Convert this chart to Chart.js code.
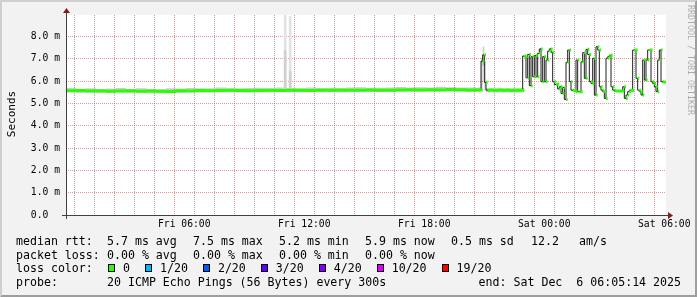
<!DOCTYPE html>
<html>
<head>
<meta charset="utf-8">
<script src="https://cdn.jsdelivr.net/npm/chart.js@4.4.1/dist/chart.umd.min.js"></script>
<style>
  html, body { margin: 0; padding: 0; background: #f2f2f2; }
  #wrap { width: 697px; height: 297px; }
</style>
</head>
<body>
<div id="wrap"><canvas id="rrd" width="697" height="297"></canvas></div>
<script>
// median rtt in ms, one value per 5 min step, graph starts Fri 00:05:14
const startHour = 0.087;
const endHour = 30.087;
const stepHours = 5 / 60;
const coarseSteps = 6; // the quiet first part is kept as 30 min blocks

const coarseMedian = [5.57, 5.58, 5.56, 5.57, 5.55, 5.56, 5.57, 5.55, 5.56, 5.55,
  5.54, 5.57, 5.56, 5.58, 5.57, 5.58, 5.59, 5.58, 5.57, 5.58,
  5.59, 5.58, 5.60, 5.59, 5.58, 5.60, 5.59, 5.60, 5.59, 5.60,
  5.61, 5.60, 5.60, 5.61, 5.62, 5.61, 5.62, 5.61, 5.63, 5.62, 5.61];
const coarseSmokeTop = [5.68, 5.70, 5.66, 5.69, 5.64, 5.67, 5.70, 5.65, 5.68, 5.66,
  5.64, 5.69, 5.67, 5.70, 5.68, 5.69, 5.72, 5.69, 5.68, 5.70,
  5.71, 5.69, 5.72, 5.70, 5.69, 5.72, 5.70, 5.71, 5.70, 5.72,
  5.73, 5.71, 5.71, 5.72, 5.74, 5.72, 5.73, 5.72, 5.75, 5.73, 5.72];
const coarseSmokeBottom = [5.49, 5.50, 5.47, 5.49, 5.46, 5.48, 5.49, 5.46, 5.48, 5.46,
  5.45, 5.49, 5.47, 5.50, 5.48, 5.50, 5.51, 5.50, 5.49, 5.50,
  5.51, 5.50, 5.52, 5.51, 5.50, 5.52, 5.51, 5.52, 5.51, 5.52,
  5.53, 5.52, 5.52, 5.53, 5.54, 5.53, 5.54, 5.53, 5.55, 5.54, 5.53];

const fineFirstStep = 246;
const fineMedian = [5.62, 5.61, 5.62, 5.61, 6.90, 7.18, 5.95,
  5.60, 5.59, 5.61, 5.60, 5.58, 5.60, 5.59, 5.60, 5.61, 5.59, 5.58,
  5.60, 5.59, 5.60, 5.58, 5.59, 5.60, 5.59, 5.58, 5.60, 5.59, 5.60,
  7.13, 7.10, 6.15, 7.20, 5.80, 7.10, 6.20, 7.15, 6.20, 7.25,
  7.45, 5.98, 7.10, 5.98, 6.95, 7.35, 7.45, 7.30, 5.98, 5.85,
  5.88, 5.65, 5.75, 5.45, 5.72, 5.18, 6.85,
  7.40, 5.98, 5.60, 5.58, 5.53, 6.95, 5.53, 5.53, 6.87, 7.28,
  6.13, 7.43, 7.20, 5.98, 5.90, 7.03, 5.38, 7.55, 7.40, 5.75,
  5.60, 5.53, 5.23, 7.03, 7.10, 7.17, 5.75, 5.60, 5.56, 5.56,
  5.56, 5.56, 5.56, 5.75, 5.23, 5.38, 5.53, 5.60, 5.58, 7.40,
  7.40, 6.13, 5.60, 5.53, 5.38, 6.95, 6.05, 6.95, 7.40, 7.40,
  5.98, 5.90, 5.75, 5.53, 6.95, 7.40, 5.98, 5.95];
const fineSmokeTop = [5.72, 5.70, 5.73, 5.71, 7.05, 7.55, 6.90,
  5.70, 5.69, 5.71, 5.70, 5.68, 5.70, 5.69, 5.71, 5.72, 5.69, 5.68,
  5.70, 5.69, 5.70, 5.68, 5.69, 5.71, 5.69, 5.68, 5.70, 5.69, 5.70];
const fineSmokeBottom = [5.52, 5.51, 5.52, 5.51, 5.62, 6.70, 5.60,
  5.50, 5.49, 5.51, 5.50, 5.48, 5.50, 5.49, 5.50, 5.51, 5.49, 5.48,
  5.50, 5.49, 5.50, 5.48, 5.49, 5.50, 5.49, 5.48, 5.50, 5.49, 5.50];

// two single pings far out around Fri 11:00
const spikeSteps = [131, 134];
const spikeBase = [5.62, 5.62];
const spikeDense = [7.37, 6.44];
const spikeMax = [9.0, 8.9];

const yMax = 8.97;
const xTickLabels = ['Fri 06:00', 'Fri 12:00', 'Fri 18:00', 'Sat 00:00', 'Sat 06:00'];

const rttStats = ['5.7 ms avg', '7.5 ms max', '5.2 ms min', '5.9 ms now', '0.5 ms sd', '12.2', 'am/s'];
const lossStats = ['0.00 % avg', '0.00 % max', '0.00 % min', '0.00 % now'];
const lossLabels = ['0', '1/20', '2/20', '3/20', '4/20', '10/20', '19/20'];
const lossColors = ['#26ff00', '#00b8ff', '#0059ff', '#5e00ff', '#7e00ff', '#dd00ff', '#ff0000'];
const probeText = '20 ICMP Echo Pings (56 Bytes) every 300s';
const endText = 'end: Sat Dec  6 06:05:14 2025';

function stepToHour(k) { return startHour + k * stepHours; }

// build the point lists
const medianPts = [];
coarseMedian.forEach((v, i) => medianPts.push({ x: stepToHour(i * coarseSteps), y: v }));
fineMedian.forEach((v, j) => medianPts.push({ x: stepToHour(fineFirstStep + j), y: v }));
const blackPts = medianPts.concat([{ x: endHour, y: fineMedian[fineMedian.length - 1] }]);

const greenPts = [];
medianPts.forEach((p, i) => {
  const x2 = i + 1 < medianPts.length ? medianPts[i + 1].x : endHour;
  greenPts.push({ x: p.x, y: p.y }, { x: x2, y: p.y }, { x: x2, y: null });
});

const smokeTopPts = [], smokeBotPts = [];
coarseSmokeTop.forEach((v, i) => smokeTopPts.push({ x: stepToHour(i * coarseSteps), y: v }));
coarseSmokeBottom.forEach((v, i) => smokeBotPts.push({ x: stepToHour(i * coarseSteps), y: v }));
fineSmokeTop.forEach((v, j) => smokeTopPts.push({ x: stepToHour(fineFirstStep + j), y: v }));
fineSmokeBottom.forEach((v, j) => smokeBotPts.push({ x: stepToHour(fineFirstStep + j), y: v }));
const smokeEnd = stepToHour(fineFirstStep + fineSmokeTop.length);
smokeTopPts.push({ x: smokeEnd, y: fineSmokeTop[fineSmokeTop.length - 1] });
smokeBotPts.push({ x: smokeEnd, y: fineSmokeBottom[fineSmokeBottom.length - 1] });

const spikeDensePts = spikeSteps.map((k, i) => ({ x: stepToHour(k + 0.5), y: [spikeBase[i], spikeDense[i]] }));
const spikeMaxPts = spikeSteps.map((k, i) => ({ x: stepToHour(k + 0.5), y: [spikeBase[i], spikeMax[i]] }));

const MONO = '"DejaVu Sans Mono", monospace';
const minorGrid = 'rgba(143,143,143,0.75)';
const majorGrid = 'rgba(222,79,79,0.6)';

const rrdFrame = {
  id: 'rrdFrame',
  beforeDraw(chart) {
    const { ctx, width: W, height: H, chartArea: a } = chart;
    ctx.save();
    ctx.fillStyle = '#f2f2f2';
    ctx.fillRect(0, 0, W, H);
    ctx.fillStyle = '#cfcfcf';
    ctx.beginPath();
    ctx.moveTo(0, H); ctx.lineTo(2, H - 2); ctx.lineTo(2, 2);
    ctx.lineTo(W - 2, 2); ctx.lineTo(W, 0); ctx.lineTo(0, 0);
    ctx.closePath(); ctx.fill();
    ctx.fillStyle = '#9e9e9e';
    ctx.beginPath();
    ctx.moveTo(2, H - 2); ctx.lineTo(W - 2, H - 2); ctx.lineTo(W - 2, 2);
    ctx.lineTo(W, 0); ctx.lineTo(W, H); ctx.lineTo(0, H);
    ctx.closePath(); ctx.fill();
    ctx.fillStyle = '#ffffff';
    ctx.fillRect(a.left, a.top, a.right - a.left, a.bottom - a.top);
    ctx.restore();
  },
  afterDraw(chart) {
    const { ctx, chartArea: a } = chart;
    ctx.save();
    // axes
    ctx.strokeStyle = '#404040';
    ctx.lineWidth = 1;
    ctx.beginPath();
    ctx.moveTo(a.left - 4, a.bottom + 0.5); ctx.lineTo(a.right + 4, a.bottom + 0.5);
    ctx.moveTo(a.left + 0.5, a.bottom + 4); ctx.lineTo(a.left + 0.5, a.top - 4);
    ctx.stroke();
    ctx.fillStyle = '#801f1f';
    ctx.beginPath();
    ctx.moveTo(a.right + 2, a.bottom - 3); ctx.lineTo(a.right + 2, a.bottom + 4); ctx.lineTo(a.right + 7, a.bottom + 0.5);
    ctx.closePath(); ctx.fill();
    ctx.beginPath();
    ctx.moveTo(a.left - 3, a.top - 2); ctx.lineTo(a.left + 4, a.top - 2); ctx.lineTo(a.left + 0.5, a.top - 7);
    ctx.closePath(); ctx.fill();

    // unit label
    ctx.fillStyle = '#000';
    ctx.font = '11px ' + MONO;
    ctx.textAlign = 'center';
    ctx.textBaseline = 'alphabetic';
    ctx.save();
    ctx.translate(15, 114);
    ctx.rotate(-Math.PI / 2);
    ctx.fillText('Seconds', 0, 0);
    ctx.restore();

    // watermark
    ctx.save();
    ctx.fillStyle = 'rgba(0,0,0,0.3)';
    ctx.font = '8.3px ' + MONO;
    ctx.textAlign = 'left';
    ctx.textBaseline = 'middle';
    ctx.translate(690, 5);
    ctx.rotate(Math.PI / 2);
    ctx.fillText('RRDTOOL / TOBI OETIKER', 0, 0);
    ctx.restore();

    // legend
    ctx.font = '11.6px ' + MONO;
    ctx.textAlign = 'left';
    ctx.fillStyle = '#000';
    const statX = [107, 193, 279, 365, 451, 531, 579];
    ctx.fillText('median rtt:', 16, 245);
    rttStats.forEach((t, i) => ctx.fillText(t, statX[i], 245));
    ctx.fillText('packet loss:', 16, 259);
    lossStats.forEach((t, i) => ctx.fillText(t, statX[i], 259));
    ctx.fillText('loss color:', 16, 272);
    let bx = 108.3;
    lossLabels.forEach((t, i) => {
      const x0 = Math.round(bx);
      ctx.fillStyle = lossColors[i];
      ctx.fillRect(x0, 264, 7, 8);
      ctx.strokeStyle = '#000';
      ctx.strokeRect(x0 + 0.5, 264.5, 6, 7);
      ctx.fillStyle = '#000';
      ctx.fillText(t, bx + 14.7, 272);
      bx = bx + 14.7 + ctx.measureText(t).width + 15.3;
    });
    ctx.fillText('probe:', 16, 286);
    ctx.fillText(probeText, 107, 286);
    ctx.textAlign = 'right';
    ctx.fillText(endText, 681, 286);
    ctx.restore();
  }
};

const yGrid = [];
for (let v = 0; v < yMax; v += 0.5) yGrid.push(v);
const xGrid = [];
for (let h = Math.ceil(startHour); h <= endHour; h++) xGrid.push(h);

new Chart(document.getElementById('rrd'), {
  type: 'line',
  data: {
    datasets: [
      { data: greenPts, borderColor: lossColors[0], borderWidth: 3, borderCapStyle: 'butt',
        pointRadius: 0, spanGaps: false, fill: false, order: 0 },
      { data: blackPts, borderColor: '#202020', borderWidth: 1, stepped: 'after',
        pointRadius: 0, fill: false, order: 1 },
      { type: 'bar', data: spikeDensePts, backgroundColor: '#d0d0d0', barThickness: 2,
        grouped: false, order: 2 },
      { type: 'bar', data: spikeMaxPts, backgroundColor: '#e2e2e2', barThickness: 2,
        grouped: false, order: 3 },
      { data: smokeTopPts, borderColor: 'transparent', borderWidth: 0, stepped: 'after',
        pointRadius: 0, fill: '+1', backgroundColor: 'rgba(0,0,0,0.2)', order: 4 },
      { data: smokeBotPts, borderColor: 'transparent', borderWidth: 0, stepped: 'after',
        pointRadius: 0, fill: false, order: 5 }
    ]
  },
  options: {
    responsive: false,
    animation: false,
    devicePixelRatio: 1,
    events: [],
    layout: { padding: { top: 15, right: 31, left: 0, bottom: 0 } },
    plugins: { legend: { display: false }, tooltip: { enabled: false } },
    scales: {
      x: {
        type: 'linear',
        min: startHour,
        max: endHour,
        offset: false,
        afterFit: s => { s.height = 82; },
        afterBuildTicks: s => { s.ticks = xGrid.map(v => ({ value: v })); },
        grid: {
          color: c => (c.tick && c.tick.value % 3 === 0 ? majorGrid : minorGrid),
          lineWidth: 1, drawTicks: false, borderDash: [1, 1]
        },
        border: { display: false, dash: [1, 1] },
        ticks: {
          autoSkip: false, maxRotation: 0, padding: 4, color: '#000',
          font: { family: MONO, size: 9.7 },
          callback: v => (v % 6 === 0 ? xTickLabels[v / 6 - 1] : '')
        }
      },
      y: {
        min: 0,
        max: yMax,
        afterFit: s => { s.width = 66; },
        afterBuildTicks: s => { s.ticks = yGrid.map(v => ({ value: v })); },
        grid: {
          color: c => (c.tick && Number.isInteger(c.tick.value) ? majorGrid : minorGrid),
          lineWidth: 1, drawTicks: false, borderDash: [1, 1]
        },
        border: { display: false, dash: [1, 1] },
        ticks: {
          padding: 6, color: '#000',
          font: { family: MONO, size: 9.7 },
          callback: v => (Number.isInteger(v) ? (v === 0 ? '0.0  ' : v.toFixed(1) + ' m') : '')
        }
      }
    }
  },
  plugins: [rrdFrame]
});
</script>
</body>
</html>
